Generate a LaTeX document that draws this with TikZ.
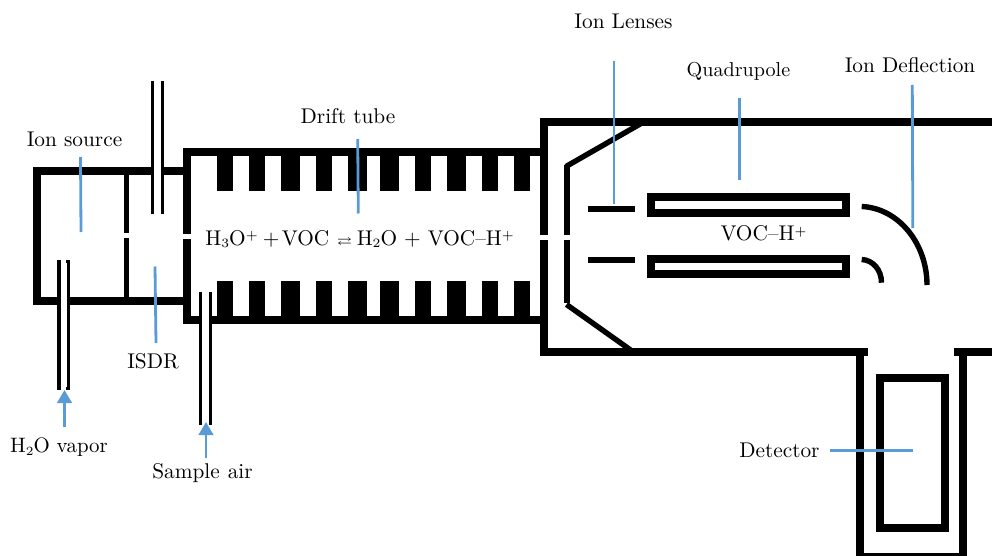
\documentclass[tikz,border=0pt]{standalone}
\usepackage{amssymb}
\usetikzlibrary{arrows.meta}
\definecolor{leader}{HTML}{5B9BD5}
\newcommand{\lowtxt}[1]{\raisebox{-1.1pt}{\fontsize{6}{6}\selectfont #1}}
\newcommand{\hightxt}[1]{\raisebox{2.6pt}{\fontsize{6}{6}\selectfont #1}}
\tikzset{
  wall/.style={line width=8pt,line cap=butt,line join=miter},
  thin wall/.style={line width=5.4pt,line cap=butt,line join=miter},
  tube/.style={line width=3.1pt,line cap=butt},
  tooth/.style={fill=black,draw=none},
  lead/.style={draw=leader,line width=2.8pt},
  arrowlead/.style={draw=leader,line width=2.8pt,-{Triangle[length=13pt,width=14.5pt,fill=leader]}},
  lbl/.style={inner sep=0pt,scale=2.13,text=black},
}
\begin{document}
\begin{tikzpicture}[x=1pt,y=-1pt]
\useasboundingbox (0,0) rectangle (992,556);
% ion source + ISDR housing
\draw[wall] (187,170.8) -- (37.3,170.8) -- (37.3,301) -- (187,301);
\draw[thin wall] (126.7,174) -- (126.7,233);
\draw[thin wall] (126.7,238) -- (126.7,298);
% drift tube
\draw[wall] (187,233.5) -- (187,151.8) -- (541,151.8);
\draw[wall] (187,239) -- (187,320) -- (541,320);
\foreach \a/\b in {217.3/233.3,249.3/265.3,281.3/300,316/332,348.3/366.7,380.3/399,415/430.7,447/465.7,481.7/497.7,513.7/529.7}{
  \fill[tooth] (\a,155) rectangle (\b,190.7);
  \fill[tooth] (\a,281.3) rectangle (\b,317);
}
% mass spec chamber
\draw[wall] (544.3,235) -- (544.3,122.2) -- (992,122.2);
\draw[wall] (544.3,240) -- (544.3,352) -- (867.7,352);
\draw[wall] (954,352) -- (992,352);
% cone
\draw[thin wall] (567,235) -- (567,165);
\draw[thin wall] (566,166.5) -- (641,123.5);
\draw[thin wall] (567,240) -- (567,303);
\draw[thin wall] (566.5,304.5) -- (632,351);
% lenses
\draw[thin wall] (588.3,209) -- (635.3,209);
\draw[thin wall] (588.3,260) -- (635.3,260);
% quadrupole
\draw[line width=8pt] (651,197.3) rectangle (845.7,213.3);
\draw[line width=8pt] (651,258.7) rectangle (845.7,274.3);
% deflectors
\draw[thin wall] (861.7,206.5) .. controls (898,208) and (927,243) .. (927,285);
\draw[thin wall] (861.7,259.5) .. controls (873,260) and (881.5,270) .. (881.5,282.7);
% detector
\draw[wall] (859.5,352) -- (859.5,556.5) -- (963.3,556.5) -- (963.3,352);
\draw[line width=8pt] (880.3,378.3) rectangle (944.7,528);
% inlet tubes
\fill[white] (60,295) rectangle (67,306);
\fill[white] (153.5,165) rectangle (161.5,176);
\fill[white] (201.5,314) rectangle (209.5,326);
\draw[tube] (59,260) -- (59,390);
\draw[tube] (68.8,260) -- (68.8,390);
\draw[tube] (66,261.3) -- (70.3,261.3);
\draw[tube] (66,388.7) -- (70.3,388.7);
\draw[tube] (152.5,81) -- (152.5,214);
\draw[tube] (162.7,81) -- (162.7,214);
\draw[tube] (200.5,292) -- (200.5,425);
\draw[tube] (210.7,292) -- (210.7,425);
% labels
\node[lbl] (ionsource) at (74.5,139.5) {Ion source};
\node[lbl] (drift) at (348,116.5) {Drift\hspace{3.4pt}tube};
\node[lbl] (lenses) at (623.5,21.5) {Ion Lenses};
\node[lbl,scale=.945] (quad) at (738.5,71.5) {Quadrupole};
\node[lbl] (deflect) at (910,65.5) {Ion Deflection};
\node[lbl] (isdr) at (153,361) {ISDR};
\node[lbl,anchor=east] (detector) at (820,450) {Detector};
\node[lbl,scale=.98] (water) at (59,447.5) {H\lowtxt{2}O vapor};
\node[lbl] (sample) at (202.5,473) {Sample\hspace{3.8pt}air};
\node[lbl] (vocion) at (763.5,233.5) {VOC--H\hightxt{+}};
\node[lbl,anchor=base west] (reaction) at (205,245.5) {H\lowtxt{3}O\hightxt{+}\hspace{2.4pt}+\hspace{1.2pt}VOC\hspace{3.4pt}{\fontsize{5.5}{6}\selectfont$\rightleftarrows$}\hspace{2pt}H\lowtxt{2}O\hspace{3.3pt}+\hspace{3.4pt}VOC--H\hightxt{+}};
% leader ends
\coordinate (a1) at (80.5,157); \coordinate (a2) at (81,232);
\coordinate (b1) at (357.7,139); \coordinate (b2) at (358.3,213.5);
\coordinate (c1) at (614,61); \coordinate (c2) at (614,204);
\coordinate (d1) at (739.3,98.5); \coordinate (d2) at (739.3,180);
\coordinate (e1) at (912.3,85); \coordinate (e2) at (912.8,228);
\coordinate (f1) at (155,266.5); \coordinate (f2) at (156,343);
\coordinate (g1) at (830,450.5); \coordinate (g2) at (913,450.5);
\coordinate (h1) at (64.5,426.5); \coordinate (h2) at (64.5,390);
\coordinate (i1) at (206,458); \coordinate (i2) at (206,422);
\draw[lead] (a1) -- (a2);
\draw[lead] (b1) -- (b2);
\draw[lead] (c1) -- (c2);
\draw[lead] (d1) -- (d2);
\draw[lead] (e1) -- (e2);
\draw[lead] (f1) -- (f2);
\draw[lead] (g1) -- (g2);
\draw[arrowlead] (h1) -- (h2);
\draw[arrowlead] (i1) -- (i2);
\end{tikzpicture}
\end{document}
